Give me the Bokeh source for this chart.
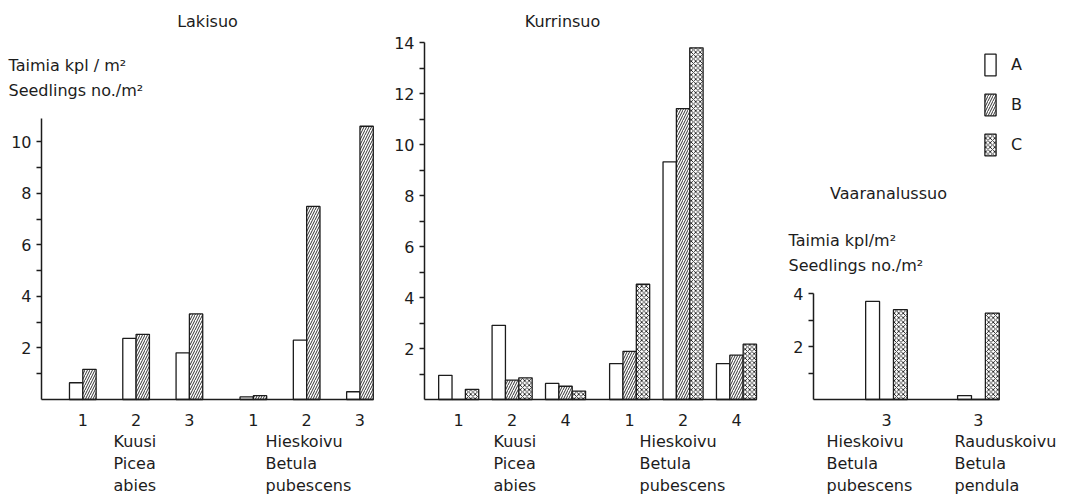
from bokeh.plotting import figure
from bokeh.models import ColumnDataSource, FixedTicker, Label, Legend, LegendItem
from bokeh.transform import dodge
from bokeh.layouts import row
from bokeh.embed import file_html
from bokeh.resources import INLINE

# ---------------- data ----------------
# Lakisuo: Kuusi (Picea abies) 1,2,3 ; Hieskoivu (Betula pubescens) 1,2,3
laki_pos = [1, 2, 3, 4.2, 5.2, 6.2]
laki_ticks = ["1", "2", "3", "1", "2", "3"]
laki_A = [0.65, 2.37, 1.81, 0.10, 2.30, 0.30]
laki_B = [1.17, 2.53, 3.32, 0.15, 7.49, 10.60]

# Kurrinsuo: Kuusi 1,2,4 ; Hieskoivu 1,2,4
kurr_pos = [1, 2, 3, 4.2, 5.2, 6.2]
kurr_ticks = ["1", "2", "4", "1", "2", "4"]
kurr_A = [0.95, 2.91, 0.63, 1.41, 9.32, 1.41]
kurr_B = [0.00, 0.76, 0.52, 1.89, 11.41, 1.74]
kurr_C = [0.40, 0.85, 0.33, 4.52, 13.79, 2.17]

# Vaaranalussuo: Hieskoivu 3 ; Rauduskoivu 3
vaara_pos = [1, 2.72]
vaara_ticks = ["3", "3"]
vaara_A = [3.70, 0.15]
vaara_B = [0.00, 0.00]
vaara_C = [3.39, 3.26]

species_kuusi = ["Kuusi", "Picea", "abies"]
species_hies = ["Hieskoivu", "Betula", "pubescens"]
species_raud = ["Rauduskoivu", "Betula", "pendula"]
ylab = ["Taimia kpl / m²", "Seedlings no./m²"]
ylab3 = ["Taimia kpl/m²", "Seedlings no./m²"]

# ---------------- style / geometry ----------------
FONT = "DejaVu Sans"
FS = "16px"
INK = "#1c1c1c"
FIG_H = 498
BASE = 399          # pixel row of the zero line
LINE_Y = [441, 463, 485]


class Panel:
    """A figure whose frame fills the whole canvas; axes sit at fixed spots."""

    def __init__(self, left, width, anchor_px, sx, sy, axis_px, ytop):
        self.left = left
        self.sx, self.sy = sx, sy
        self.anchor = anchor_px - left          # local px of x == 1
        self.xr = (1 - self.anchor / sx, 1 + (width - self.anchor) / sx)
        self.yr = (-(FIG_H - BASE) / sy, BASE / sy)
        self.axis_x = self.fx(axis_px)
        self.ytop = ytop
        p = figure(width=width, height=FIG_H, x_range=self.xr, y_range=self.yr,
                   output_backend="svg", toolbar_location=None, title=None,
                   min_border=0)
        p.outline_line_color = None
        p.xgrid.visible = False
        p.ygrid.visible = False
        p.background_fill_color = "white"
        p.border_fill_color = "white"
        self.p = p

    def fx(self, px):
        return 1 + (px - self.left - self.anchor) / self.sx

    def fy(self, py):
        return (BASE - py) / self.sy

    def axes(self, pos, ticks, ymajor, yminor, xend):
        p = self.p
        xa = p.xaxis[0]
        xa.fixed_location = 0
        xa.bounds = (self.axis_x, xend)
        xa.ticker = FixedTicker(ticks=pos)
        xa.major_label_overrides = {k: v for k, v in zip(pos, ticks)}
        xa.major_tick_line_color = None
        xa.minor_tick_line_color = None
        xa.axis_line_color = INK
        xa.axis_line_width = 1.5
        xa.major_label_standoff = 8
        xa.major_label_text_font = FONT
        xa.major_label_text_font_size = FS
        xa.major_label_text_color = INK

        ya = p.yaxis[0]
        ya.fixed_location = self.axis_x
        ya.bounds = (0, self.ytop)
        ya.ticker = FixedTicker(ticks=ymajor, minor_ticks=yminor)
        ya.axis_line_color = INK
        ya.axis_line_width = 1.5
        ya.major_tick_line_color = INK
        ya.minor_tick_line_color = INK
        ya.major_tick_line_width = 1.3
        ya.minor_tick_line_width = 1.3
        ya.major_tick_in = 0
        ya.major_tick_out = 5
        ya.minor_tick_in = 0
        ya.minor_tick_out = 5
        ya.major_label_standoff = 5
        ya.major_label_text_font = FONT
        ya.major_label_text_font_size = FS
        ya.major_label_text_color = INK

    def text(self, px, py, text, align="left"):
        self.p.add_layout(Label(x=self.fx(px), y=self.fy(py), text=text,
                                text_align=align, text_baseline="middle",
                                text_font=FONT, text_font_size=FS,
                                text_color=INK))

    def bars(self, src, field, offset, width, kind):
        p = self.p
        kw = dict(x=dodge("x", offset, range=p.x_range), top=field, bottom=0,
                  width=width, source=src, fill_color="white",
                  line_color=INK, line_width=1.3)
        if kind == "B":
            kw.update(hatch_pattern="/", hatch_color=INK, hatch_scale=5,
                      hatch_weight=0.9)
        elif kind == "C":
            kw.update(hatch_pattern="x", hatch_color=INK, hatch_scale=4.5,
                      hatch_weight=0.9)
        return p.vbar(**kw)


# ---------------- Lakisuo ----------------
P1 = Panel(left=0, width=378, anchor_px=82.3, sx=53.3, sy=281 / 10.9,
           axis_px=41, ytop=10.9)
P1.axes(laki_pos, laki_ticks, [2, 4, 6, 8, 10], [1, 3, 5, 7, 9], 6.45)
src1 = ColumnDataSource(dict(x=laki_pos, A=laki_A, B=laki_B))
P1.bars(src1, "A", -0.125, 0.25, "A")
P1.bars(src1, "B", 0.125, 0.25, "B")
P1.text(207, 21, "Lakisuo", "center")
P1.text(8, 65, ylab[0])
P1.text(8, 90, ylab[1])
for t, yy in zip(species_kuusi, LINE_Y):
    P1.text(113, yy, t)
for t, yy in zip(species_hies, LINE_Y):
    P1.text(265, yy, t)

# ---------------- Kurrinsuo ----------------
P2 = Panel(left=378, width=392, anchor_px=458.2, sx=53.42, sy=357 / 14,
           axis_px=424, ytop=14)
P2.axes(kurr_pos, kurr_ticks, [2, 4, 6, 8, 10, 12, 14],
        [1, 3, 5, 7, 9, 11, 13], 6.575)
src2 = ColumnDataSource(dict(x=kurr_pos, A=kurr_A, B=kurr_B, C=kurr_C))
P2.bars(src2, "A", -0.25, 0.25, "A")
P2.bars(src2, "B", 0.0, 0.25, "B")
P2.bars(src2, "C", 0.25, 0.25, "C")
P2.text(562, 21, "Kurrinsuo", "center")
for t, yy in zip(species_kuusi, LINE_Y):
    P2.text(493, yy, t)
for t, yy in zip(species_hies, LINE_Y):
    P2.text(639, yy, t)

# ---------------- Vaaranalussuo ----------------
P3 = Panel(left=770, width=310, anchor_px=886, sx=53.45, sy=106 / 4,
           axis_px=813, ytop=4)
P3.axes(vaara_pos, vaara_ticks, [2, 4], [1, 3], 3.11)
src3 = ColumnDataSource(dict(x=vaara_pos, A=vaara_A, B=vaara_B, C=vaara_C))
rA = P3.bars(src3, "A", -0.26, 0.26, "A")
rB = P3.bars(src3, "B", 0.0, 0.26, "B")
rC = P3.bars(src3, "C", 0.26, 0.26, "C")
P3.text(888, 193, "Vaaranalussuo", "center")
P3.text(788, 240, ylab3[0])
P3.text(788, 265, ylab3[1])
for t, yy in zip(species_hies, LINE_Y):
    P3.text(826, yy, t)
for t, yy in zip(species_raud, LINE_Y):
    P3.text(954, yy, t)

legend = Legend(items=[LegendItem(label="A", renderers=[rA]),
                       LegendItem(label="B", renderers=[rB]),
                       LegendItem(label="C", renderers=[rC])],
                location=(983 - 770, FIG_H - 158), orientation="vertical",
                glyph_width=14, glyph_height=27, spacing=13,
                label_standoff=14, padding=0, margin=0,
                border_line_color=None, background_fill_alpha=0,
                label_text_font=FONT, label_text_font_size=FS,
                label_text_color=INK)
P3.p.add_layout(legend)

layout = row(P1.p, P2.p, P3.p)
open("out.html", "w").write(file_html(layout, INLINE))
